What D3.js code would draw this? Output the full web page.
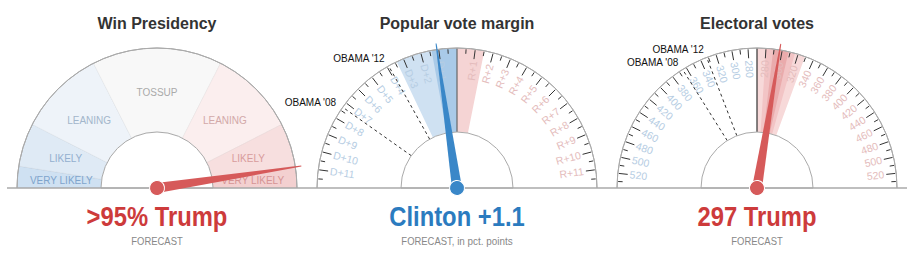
<!DOCTYPE html>
<html>
<head>
<meta charset="utf-8">
<script src="https://cdn.jsdelivr.net/npm/d3@7"></script>
<style>
body { margin: 0; background: #fff; }
text { font-family: "Liberation Sans", Arial, sans-serif; }
</style>
</head>
<body>
<svg id="chart" width="919" height="255"></svg>
<script>
// titles and headline numbers
var gaugeTitles = ["Win Presidency", "Popular vote margin", "Electoral votes"];
var headlines = [">95% Trump", "Clinton +1.1", "297 Trump"];
var subLabels = [["FORECAST", ""], ["FORECAST,", " in pct. points"], ["FORECAST", ""]];

// win presidency: trump chance, percent
var winBreaks = [0, 5, 15, 35, 65, 85, 95, 100];
var winLabels = ["VERY LIKELY", "LIKELY", "LEANING", "TOSSUP", "LEANING", "LIKELY", "VERY LIKELY"];
var winForecast = 95.2;

// popular vote margin: negative = Clinton lead, pct points
var marginMajor = [-11, -10, -9, -8, -7, -6, -5, -4, -3, -2, -1, 1, 2, 3, 4, 5, 6, 7, 8, 9, 10, 11];
var marginLabels = ["D+11", "D+10", "D+9", "D+8", "D+7", "D+6", "D+5", "D+4", "D+3", "D+2", "D+1",
                    "R+1", "R+2", "R+3", "R+4", "R+5", "R+6", "R+7", "R+8", "R+9", "R+10", "R+11"];
var marginBandLo = [-3.4, -1.4, 0];
var marginBandHi = [0, 0, 1.5];
var marginObamaNames = ["OBAMA '08", "OBAMA '12"];
var marginObama = [-7.3, -3.9];
var marginForecast = -1.1;

// electoral votes: position = Trump EV (0..538), left side labelled with Clinton EV
var evLabelValues = [280, 300, 320, 340, 360, 380, 400, 420, 440, 460, 480, 500, 520];
var evBandLo = [269, 280, 289];
var evBandHi = [329, 316, 308];
var evObamaNames = ["OBAMA '08", "OBAMA '12"];
var evObama = [365, 332];
var evForecast = 297;
var evTotal = 538;

var R_OUT = 140, R_IN = 56, CY = 188;
var centers = [157, 457, 757];

var RED = "#cd3b3b", BLUE = "#2b7bbf";
var NEEDLE_RED = "#d65a5a", NEEDLE_BLUE = "#3a87c8";

var svg = d3.select("#chart");

function pt(deg, r) {
  var a = deg * Math.PI / 180;
  return [r * Math.sin(a), -r * Math.cos(a)];
}
function rad(deg) { return deg * Math.PI / 180; }

var gauges = svg.selectAll("g.gauge")
  .data(gaugeTitles)
  .enter().append("g")
    .attr("class", "gauge")
    .attr("transform", function(d, i){ return "translate(" + centers[i] + "," + CY + ")"; });

// titles
gauges.append("text")
  .attr("y", 29 - CY)
  .attr("text-anchor", "middle")
  .style("font-size", "16px")
  .style("font-weight", "bold")
  .style("fill", "#333")
  .text(function(d){ return d; });

// ---------- WIN PRESIDENCY ----------
var g1 = d3.select(gauges.nodes()[0]);
var winScale = d3.scaleLinear().domain([0, 100]).range([-90, 90]);
var winFills = ["#cfe1f2", "#dfeaf5", "#eef3f9", "#f8f8f8", "#fbeeee", "#f7dfdf", "#f3d0d0"];
var winText = ["#7ea4cc", "#93afcf", "#a3b6cb", "#aaaaaa", "#d2a9a9", "#d89c9c", "#d69494"];

var sectors = d3.range(winLabels.length).map(function(i){
  return { lo: winBreaks[i], hi: winBreaks[i + 1], label: winLabels[i], i: i };
});

g1.selectAll("path.sector")
  .data(sectors)
  .enter().append("path")
    .attr("class", "sector")
    .attr("d", function(d){
      return d3.arc()({ innerRadius: R_IN, outerRadius: R_OUT,
        startAngle: rad(winScale(d.lo)), endAngle: rad(winScale(d.hi)) });
    })
    .style("fill", function(d){ return winFills[d.i]; })
    .style("stroke", "rgba(0,0,0,0.04)");

g1.selectAll("text.sector")
  .data(sectors)
  .enter().append("text")
    .attr("class", "sector")
    .attr("x", function(d){ return pt(winScale((d.lo + d.hi) / 2), 96)[0]; })
    .attr("y", function(d){ return pt(winScale((d.lo + d.hi) / 2), 96)[1]; })
    .attr("dy", "0.35em")
    .attr("text-anchor", "middle")
    .style("font-size", "10px")
    .style("fill", function(d){ return winText[d.i]; })
    .text(function(d){ return d.label; });

// ---------- POPULAR VOTE ----------
var g2 = d3.select(gauges.nodes()[1]);
var marginScale = d3.scaleLinear().domain([-12, 12]).range([-90, 90]);
var marginBandFills = ["#cfe1f2", "#a9cae8", "#f5d4d4"];

g2.selectAll("path.band")
  .data(d3.range(marginBandLo.length))
  .enter().append("path")
    .attr("class", "band")
    .attr("d", function(i){
      return d3.arc()({ innerRadius: R_IN, outerRadius: R_OUT,
        startAngle: rad(marginScale(marginBandLo[i])), endAngle: rad(marginScale(marginBandHi[i])) });
    })
    .style("fill", function(i){ return marginBandFills[i]; });

// ---------- ELECTORAL VOTES ----------
var g3 = d3.select(gauges.nodes()[2]);
var evScale = d3.scaleLinear().domain([0, evTotal]).range([-90, 90]);
var evBandFills = ["#f7d9d9", "#f2c4c5", "#eaabac"];

g3.selectAll("path.band")
  .data(d3.range(evBandLo.length))
  .enter().append("path")
    .attr("class", "band")
    .attr("d", function(i){
      return d3.arc()({ innerRadius: R_IN, outerRadius: R_OUT,
        startAngle: rad(evScale(evBandLo[i])), endAngle: rad(evScale(evBandHi[i])) });
    })
    .style("fill", function(i){ return evBandFills[i]; });

// ticks + labels for the two scaled gauges
function drawTicks(g, ticks) {
  g.selectAll("line.tick")
    .data(ticks)
    .enter().append("line")
      .attr("class", "tick")
      .attr("x1", function(d){ return pt(d.a, d.major ? 130 : 134.5)[0]; })
      .attr("y1", function(d){ return pt(d.a, d.major ? 130 : 134.5)[1]; })
      .attr("x2", function(d){ return pt(d.a, 139)[0]; })
      .attr("y2", function(d){ return pt(d.a, 139)[1]; })
      .style("stroke", "#333")
      .style("stroke-width", 1);
}

function drawLabels(g, labels) {
  g.selectAll("text.tick")
    .data(labels)
    .enter().append("text")
      .attr("class", "tick")
      .attr("transform", function(d){
        var p = pt(d.a, 128);
        var rot = d.a < 0 ? d.a + 90 : d.a - 90;
        return "translate(" + p[0] + "," + p[1] + ") rotate(" + rot + ")";
      })
      .attr("dy", "0.35em")
      .attr("text-anchor", function(d){ return d.a < 0 ? "start" : "end"; })
      .style("font-size", "10.5px")
      .style("fill", function(d){ return d.a < 0 ? "#b6cde3" : "#e4bcbc"; })
      .text(function(d){ return d.text; });
}

// margin ticks: integer majors, half-point minors
var marginTicks = marginMajor.map(function(v){ return { a: marginScale(v), major: true }; })
  .concat(d3.range(-11.5, 12, 1).map(function(v){ return { a: marginScale(v), major: false }; }));
drawTicks(g2, marginTicks);
drawLabels(g2, marginMajor.map(function(v, i){ return { a: marginScale(v), text: marginLabels[i] }; }));

// ev ticks every 10, majors on labelled values
var evTicks = [];
d3.range(280, 540, 10).forEach(function(v){
  var major = evLabelValues.indexOf(v) >= 0;
  evTicks.push({ a: evScale(v), major: major });
  evTicks.push({ a: evScale(evTotal - v), major: major });
});
drawTicks(g3, evTicks);
var evLabs = [];
evLabelValues.forEach(function(v){
  evLabs.push({ a: evScale(evTotal - v), text: String(v) });
  evLabs.push({ a: evScale(v), text: String(v) });
});
drawLabels(g3, evLabs);

// center line + obama lines
[[g2, marginScale(0), "#666"], [g3, evScale(evTotal / 2), "#333"]].forEach(function(c){
  var p1 = pt(c[1], R_IN), p2 = pt(c[1], R_OUT);
  c[0].append("line")
    .attr("x1", p1[0]).attr("y1", p1[1]).attr("x2", p2[0]).attr("y2", p2[1])
    .style("stroke", c[2]).style("stroke-width", 1.2);
});

function drawObama(g, angles, names) {
  g.selectAll("line.obama")
    .data(angles)
    .enter().append("line")
      .attr("class", "obama")
      .attr("x1", function(a){ return pt(a, R_IN)[0]; })
      .attr("y1", function(a){ return pt(a, R_IN)[1]; })
      .attr("x2", function(a){ return pt(a, 138)[0]; })
      .attr("y2", function(a){ return pt(a, 138)[1]; })
      .style("stroke", "#333")
      .style("stroke-dasharray", "3,3");
  g.selectAll("text.obama")
    .data(angles)
    .enter().append("text")
      .attr("class", "obama")
      .attr("x", function(a){ return pt(a, 148)[0]; })
      .attr("y", function(a){ return pt(a, 148)[1]; })
      .attr("dy", "0.35em")
      .attr("text-anchor", "end")
      .style("font-size", "10px")
      .style("fill", "#111")
      .text(function(a, i){ return names[i]; });
}
drawObama(g2, marginObama.map(marginScale), marginObamaNames);
drawObama(g3, evObama.map(function(v){ return evScale(evTotal - v); }), evObamaNames);

// frames: arcs + baseline
gauges.append("path")
  .attr("d", d3.arc()({ innerRadius: R_OUT, outerRadius: R_OUT, startAngle: -Math.PI / 2, endAngle: Math.PI / 2 }))
  .style("fill", "none").style("stroke", "#aaa");
gauges.append("path")
  .attr("d", d3.arc()({ innerRadius: 0, outerRadius: R_IN, startAngle: -Math.PI / 2, endAngle: Math.PI / 2 }))
  .style("fill", "#fff").style("stroke", "#aaa");
gauges.append("line")
  .attr("x1", -150).attr("x2", 150).attr("y1", 0).attr("y2", 0)
  .style("stroke", "#aaa").style("stroke-width", 1.5);

// needles
var needleAngles = [winScale(winForecast), marginScale(marginForecast), evScale(evForecast)];
var needleColors = [NEEDLE_RED, NEEDLE_BLUE, NEEDLE_RED];
var needle = gauges.append("g")
  .attr("transform", function(d, i){ return "rotate(" + needleAngles[i] + ")"; });
needle.append("path")
  .attr("d", "M-5,0 L-0.5,-146 L0.5,-146 L5,0 Z")
  .style("fill", function(d, i){ return needleColors[i]; });
needle.append("circle")
  .attr("r", 7.5)
  .style("fill", function(d, i){ return needleColors[i]; })
  .style("stroke", "#fff")
  .style("stroke-width", 1);

// headline numbers (no narrow font installed, so squeeze horizontally)
var headColors = [RED, BLUE, RED];
gauges.append("text")
  .attr("transform", "translate(0," + (226 - CY) + ") scale(0.85,1)")
  .attr("text-anchor", "middle")
  .style("font-size", "28px")
  .style("font-weight", "bold")
  .style("fill", function(d, i){ return headColors[i]; })
  .text(function(d, i){ return headlines[i]; });

var sub = gauges.append("text")
  .attr("transform", "translate(0," + (245 - CY) + ") scale(0.86,1)")
  .attr("text-anchor", "middle")
  .style("font-size", "11px")
  .style("fill", "#888");
sub.append("tspan").text(function(d, i){ return subLabels[i][0]; });
sub.append("tspan").style("font-size", "11.5px").text(function(d, i){ return subLabels[i][1]; });
</script>
</body>
</html>
